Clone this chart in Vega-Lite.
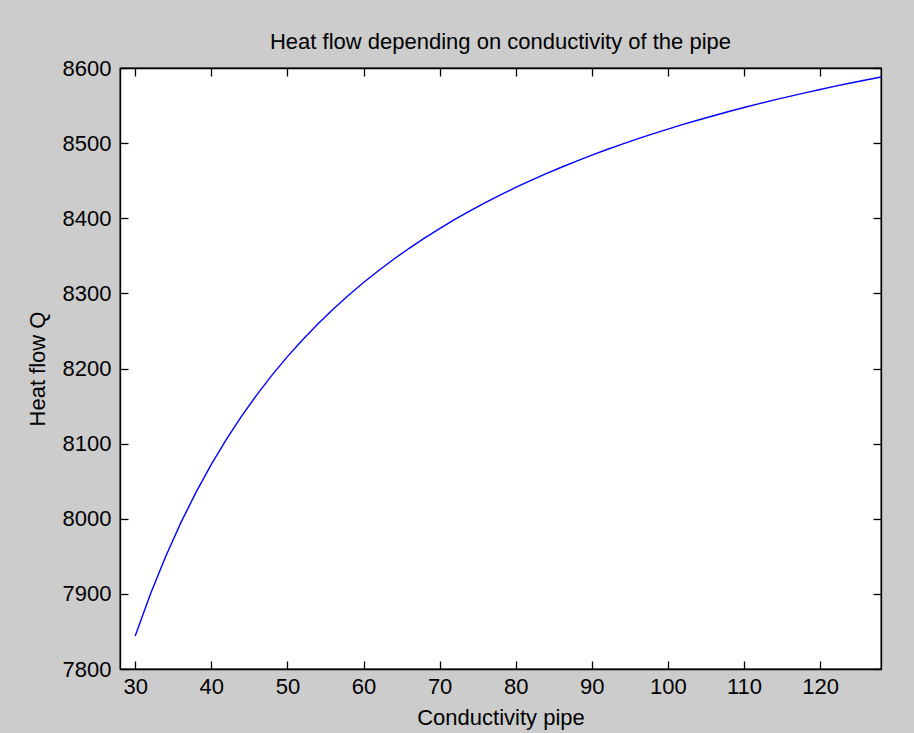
{
  "$schema": "https://vega.github.io/schema/vega-lite/v6.json",
  "width": 761,
  "height": 601,
  "autosize": {"type": "none"},
  "padding": {"left": 120, "top": 68, "right": 33, "bottom": 64},
  "background": "#cccccc",
  "title": {"text": "Heat flow depending on conductivity of the pipe", "font": "Liberation Sans", "fontSize": 22, "fontWeight": "normal", "color": "#000000", "offset": 3, "anchor": "middle"},
  "config": {
    "view": {"fill": "#ffffff", "stroke": "#000000", "strokeWidth": 1.3},
    "axis": {"grid": false, "domainColor": "#000000", "domainWidth": 1.3, "tickColor": "#000000", "tickWidth": 1.3, "tickSize": -8, "labelFont": "Liberation Sans", "labelFontSize": 22, "labelColor": "#000000", "titleFont": "Liberation Sans", "titleFontSize": 22, "titleFontWeight": "normal", "titleColor": "#000000", "format": "d"}
  },
  "data": {"values": [
    {"k": 30, "Q": 7844.0}, {"k": 32, "Q": 7899.8}, {"k": 34, "Q": 7949.8}, {"k": 36, "Q": 7994.8},
    {"k": 38, "Q": 8035.4}, {"k": 40, "Q": 8072.3}, {"k": 42, "Q": 8106.0}, {"k": 44, "Q": 8136.9},
    {"k": 46, "Q": 8165.3}, {"k": 48, "Q": 8191.5}, {"k": 50, "Q": 8215.8}, {"k": 52, "Q": 8238.3},
    {"k": 54, "Q": 8259.3}, {"k": 56, "Q": 8278.9}, {"k": 58, "Q": 8297.2}, {"k": 60, "Q": 8314.4},
    {"k": 62, "Q": 8330.5}, {"k": 64, "Q": 8345.7}, {"k": 66, "Q": 8360.0}, {"k": 68, "Q": 8373.5},
    {"k": 70, "Q": 8386.3}, {"k": 72, "Q": 8398.4}, {"k": 74, "Q": 8409.8}, {"k": 76, "Q": 8420.7},
    {"k": 78, "Q": 8431.1}, {"k": 80, "Q": 8441.0}, {"k": 82, "Q": 8450.4}, {"k": 84, "Q": 8459.3},
    {"k": 86, "Q": 8467.9}, {"k": 88, "Q": 8476.1}, {"k": 90, "Q": 8484.0}, {"k": 92, "Q": 8491.5},
    {"k": 94, "Q": 8498.7}, {"k": 96, "Q": 8505.6}, {"k": 98, "Q": 8512.3}, {"k": 100, "Q": 8518.7},
    {"k": 102, "Q": 8524.9}, {"k": 104, "Q": 8530.8}, {"k": 106, "Q": 8536.5}, {"k": 108, "Q": 8542.1},
    {"k": 110, "Q": 8547.4}, {"k": 112, "Q": 8552.5}, {"k": 114, "Q": 8557.5}, {"k": 116, "Q": 8562.3},
    {"k": 118, "Q": 8566.9}, {"k": 120, "Q": 8571.4}, {"k": 122, "Q": 8575.8}, {"k": 124, "Q": 8580.0},
    {"k": 126, "Q": 8584.1}, {"k": 128, "Q": 8588.0}
  ]},
  "layer": [
    {
      "mark": {"type": "line", "color": "#0000ff", "strokeWidth": 1.4},
      "encoding": {
        "x": {"field": "k", "type": "quantitative", "scale": {"domain": [28, 128], "nice": false, "zero": false},
              "axis": {"orient": "bottom", "title": "Conductivity pipe", "values": [30, 40, 50, 60, 70, 80, 90, 100, 110, 120], "labelPadding": 15, "titlePadding": 10}},
        "y": {"field": "Q", "type": "quantitative", "scale": {"domain": [7800, 8600], "nice": false, "zero": false},
              "axis": {"orient": "left", "title": "Heat flow Q", "values": [7800, 7900, 8000, 8100, 8200, 8300, 8400, 8500, 8600], "labelPadding": 17, "titlePadding": 13}}
      }
    },
    {
      "mark": {"type": "line", "opacity": 0},
      "encoding": {
        "x": {"field": "k", "type": "quantitative", "scale": {"domain": [28, 128], "nice": false, "zero": false},
              "axis": {"orient": "top", "title": null, "labels": false, "values": [30, 40, 50, 60, 70, 80, 90, 100, 110, 120]}},
        "y": {"field": "Q", "type": "quantitative", "scale": {"domain": [7800, 8600], "nice": false, "zero": false},
              "axis": {"orient": "right", "title": null, "labels": false, "values": [7800, 7900, 8000, 8100, 8200, 8300, 8400, 8500, 8600]}}
      }
    }
  ],
  "resolve": {"axis": {"x": "independent", "y": "independent"}}
}
